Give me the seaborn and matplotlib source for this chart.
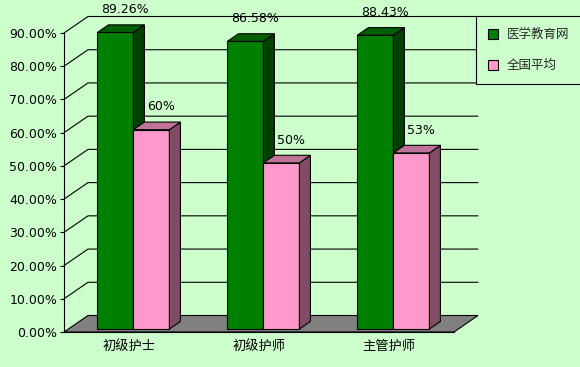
import numpy as np
import pandas as pd
import matplotlib.pyplot as plt
import seaborn as sns
from matplotlib.patches import Polygon
from matplotlib.lines import Line2D
from matplotlib.colors import to_rgba

# data
categories = ['初级护士', '初级护师', '主管护师']
series_names = ['医学教育网', '全国平均']
site_rates = [89.26, 86.58, 88.43]
national_rates = [60, 50, 53]
y_ticks = [0, 10, 20, 30, 40, 50, 60, 70, 80, 90]

bg = '#CCFFCC'
# front, top, side colours per series (old excel 3d look)
faces = {
    '医学教育网': ('#008000', '#006000', '#004000'),
    '全国平均': ('#FF99CC', '#BF7399', '#804C66'),
}

df = pd.DataFrame({
    'category': categories * 2,
    'series': [series_names[0]] * 3 + [series_names[1]] * 3,
    'rate': site_rates + national_rates,
})

sns.set_theme(style='white')
plt.rcParams['font.family'] = ['DejaVu Sans', 'Noto Sans CJK SC']

W, H = 580, 367
fig = plt.figure(figsize=(W / 100, H / 100), dpi=100, facecolor=bg)
# front plane of the plot: x 64..454 px, y 33..332 px
ax = fig.add_axes([64 / W, (H - 332) / H, 390 / W, 299 / H])
ax.set_facecolor('none')

sns.barplot(data=df, x='category', y='rate', hue='series', hue_order=series_names,
            palette=[faces[s][0] for s in series_names], width=0.554, saturation=1,
            edgecolor='black', linewidth=0.8, errorbar=None, legend=False, ax=ax)

ax.set_xlim(-0.5, 2.5)
ax.set_ylim(0, 90)

# pixel -> data conversions
px_x = 130.0
px_y = 299.0 / 90
Dx, Dy = 24 / px_x, 16.5 / px_y        # full depth of the box
fx, fy = 4.4 / px_x, 3.0 / px_y        # bar front sits a bit back
bx, by = 11.0 / px_x, 7.6 / px_y       # bar depth

bars = list(ax.patches)

# floor
floor = Polygon([(-0.5, 0), (2.5, 0), (2.5 + Dx, Dy), (-0.5 + Dx, Dy)],
                closed=True, facecolor='#808080', edgecolor='black', lw=0.8,
                zorder=1, clip_on=False)
ax.add_patch(floor)

# back wall gridlines with the diagonal on the left wall
for v in y_ticks[1:]:
    ax.plot([-0.5, -0.5 + Dx, 2.5 + Dx], [v, v + Dy, v + Dy], color='black',
            lw=0.8, clip_on=False, zorder=0.5)

for p in bars:
    fc = p.get_facecolor()
    name = series_names[0] if np.allclose(fc, to_rgba(faces[series_names[0]][0])) else series_names[1]
    front, top, side = faces[name]
    z = 3 if name == series_names[0] else 4
    x, w, h = p.get_x(), p.get_width(), p.get_height()
    x0 = x + fx
    p.set_x(x0)
    p.set_y(fy)
    p.set_zorder(z)
    p.set_clip_on(False)
    ax.add_patch(Polygon([(x0 + w, fy), (x0 + w, fy + h), (x0 + w + bx, fy + h + by), (x0 + w + bx, fy + by)],
                         closed=True, facecolor=side, edgecolor='black', lw=0.8, zorder=z, clip_on=False))
    ax.add_patch(Polygon([(x0, fy + h), (x0 + w, fy + h), (x0 + w + bx, fy + h + by), (x0 + bx, fy + h + by)],
                         closed=True, facecolor=top, edgecolor='black', lw=0.8, zorder=z, clip_on=False))
    label = f'{h:.2f}%' if name == series_names[0] else f'{h:.0f}%'
    ax.text(x0 + w / 2 + bx * 0.85, fy + h + by + 4.6, label, ha='center', va='center',
            fontsize=9, color='black', clip_on=False, zorder=6)

# axes styling
for s in ['top', 'right']:
    ax.spines[s].set_visible(False)
ax.spines['left'].set_color('black')
ax.spines['left'].set_linewidth(0.8)
ax.spines['left'].set_zorder(5)
ax.spines['bottom'].set_color('black')
ax.spines['bottom'].set_linewidth(0.8)

ax.set_yticks(y_ticks)
ax.set_yticklabels([f'{v:.2f}%' for v in y_ticks])
ax.tick_params(axis='y', direction='out', length=3, width=0.8, color='black',
               labelsize=9, labelcolor='black', pad=2, left=True)
ax.set_xticks(range(len(categories)))
ax.set_xticklabels(categories)
ax.tick_params(axis='x', length=0, labelsize=9.5, labelcolor='black', pad=6)
ax.set_xticks([0.5, 1.5, 2.5], minor=True)
ax.tick_params(axis='x', which='minor', direction='in', length=3, width=0.8,
               color='black', bottom=True)
ax.set_xlabel('')
ax.set_ylabel('')
ax.grid(False)

handles = [Line2D([], [], marker='s', linestyle='none', markersize=6.5,
                  markerfacecolor=faces[s][0], markeredgecolor='black', markeredgewidth=0.8)
           for s in series_names]
leg = fig.legend(handles, series_names, loc='upper left', bbox_to_anchor=(476 / W, 1 - 16 / H),
                 frameon=True, fancybox=False, edgecolor='black', facecolor=bg, framealpha=1,
                 fontsize=9, borderpad=0.95, labelspacing=1.45, handlelength=0.8,
                 handletextpad=0.7, borderaxespad=0)
leg.get_frame().set_linewidth(0.8)

fig.savefig('out.png', dpi=100, facecolor=bg)
